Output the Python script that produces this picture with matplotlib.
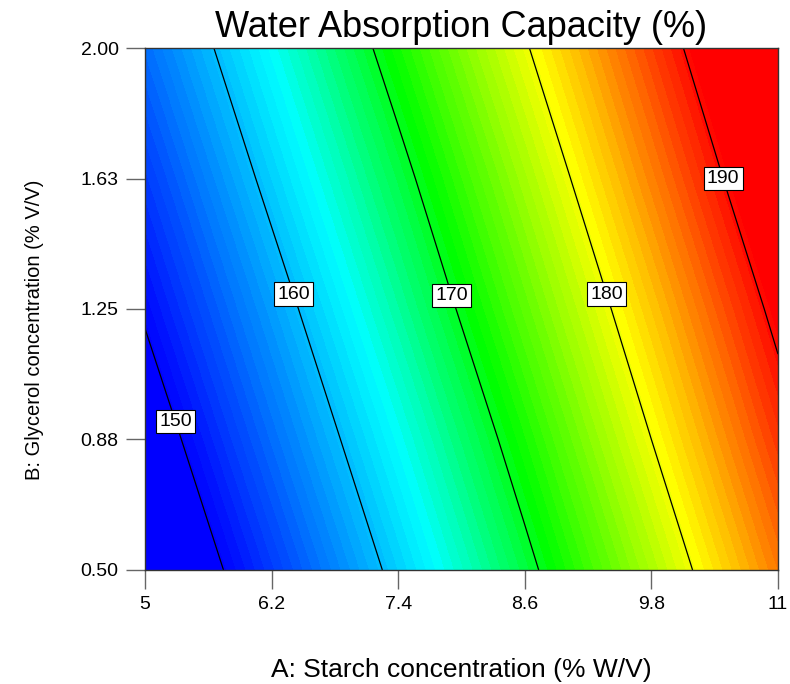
import matplotlib
matplotlib.use('Agg')
import matplotlib.pyplot as plt
import numpy as np
from matplotlib.colors import LinearSegmentedColormap

plt.rcParams['font.family'] = ['Liberation Sans', 'DejaVu Sans']

# factor levels (grid read at the tick positions)
starch = [5.0, 6.2, 7.4, 8.6, 9.8, 11.0]
glycerol = [0.5, 0.875, 1.25, 1.625, 2.0]

# water absorption capacity (%), rows = glycerol, cols = starch
wac = [
    [145.1, 153.0, 161.0, 169.1, 177.3, 185.6],
    [147.7, 155.7, 163.6, 171.7, 180.0, 188.3],
    [150.4, 158.3, 166.3, 174.4, 182.6, 190.9],
    [153.0, 161.0, 168.9, 177.0, 185.3, 193.6],
    [155.7, 163.6, 171.6, 179.7, 187.9, 196.2],
]

contour_levels = [150, 160, 170, 180, 190]
label_pos = [(5.22, 0.92), (6.48, 1.30), (8.02, 1.30), (9.45, 1.30), (10.54, 1.63)]

xticks = [5, 6.2, 7.4, 8.6, 9.8, 11]
xticklabels = ['5', '6.2', '7.4', '8.6', '9.8', '11']
yticks = [0.5, 0.875, 1.25, 1.625, 2.0]
yticklabels = ['0.50', '0.88', '1.25', '1.63', '2.00']

X, Y = np.meshgrid(starch, glycerol)
Z = np.array(wac)

# Design-Expert style rainbow: blue -> cyan -> green -> yellow -> red
vmin, vmax = 150.0, 190.5
stops = [150.0, 163.5, 171.0, 180.5, 190.5]
cmap = LinearSegmentedColormap.from_list(
    'de', list(zip([(s - vmin) / (vmax - vmin) for s in stops],
                   ['#0000ff', '#00ffff', '#00ff00', '#ffff00', '#ff0000'])))

fig = plt.figure(figsize=(7.9, 6.84), dpi=100)
fig.patch.set_facecolor('white')
ax = fig.add_axes([0.1835, 0.1667, 0.8013, 0.7631])

ax.contourf(X, Y, Z, levels=np.arange(140, 200.5, 0.6), cmap=cmap,
            vmin=vmin, vmax=vmax, extend='both')
cs = ax.contour(X, Y, Z, levels=contour_levels, colors='black', linewidths=0.9)
labels = ax.clabel(cs, fmt='%d', fontsize=14, inline=False, manual=label_pos)
for t in labels:
    t.set_rotation(0)
    t.set_bbox(dict(facecolor='white', edgecolor='black', linewidth=0.8, pad=2.2))
    t.set_zorder(5)

ax.set_xlim(5, 11)
ax.set_ylim(0.5, 2.0)
ax.set_xticks(xticks)
ax.set_xticklabels(xticklabels)
ax.set_yticks(yticks)
ax.set_yticklabels(yticklabels)
ax.tick_params(direction='out', length=14, width=1, color='#666666',
               labelsize=14, pad=5)
for s in ax.spines.values():
    s.set_color('#333333')
    s.set_linewidth(1)

ax.set_title('Water Absorption Capacity (%)', fontsize=26, pad=8)
ax.set_xlabel('A: Starch concentration (% W/V)', fontsize=19, labelpad=32)
ax.set_ylabel('B: Glycerol concentration (% V/V)', fontsize=14.5)
ax.yaxis.set_label_coords(-0.16, 0.46)

fig.savefig('out.png', dpi=100)
plt.close(fig)
